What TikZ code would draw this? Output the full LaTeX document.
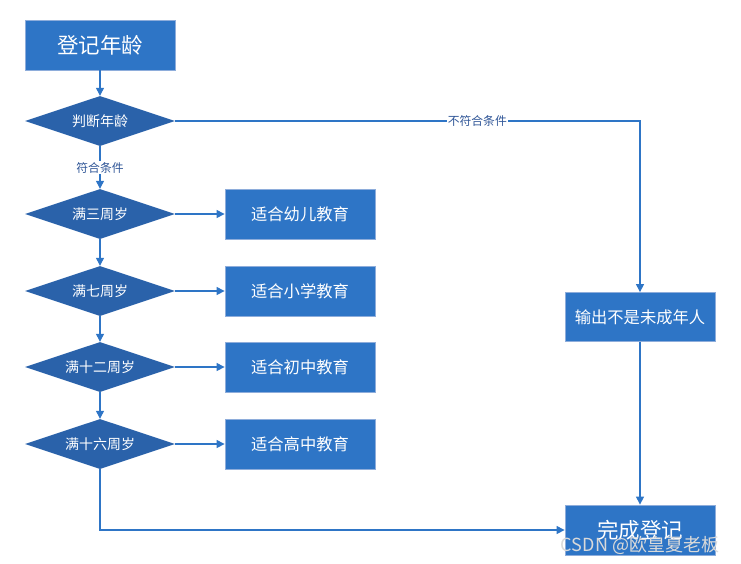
\documentclass[tikz,border=0pt]{standalone}
\usepackage{fontspec}
\setmainfont{Noto Sans CJK SC}
\usetikzlibrary{positioning,arrows.meta,shapes.geometric}
\definecolor{boxblue}{HTML}{2E75C6}
\definecolor{boxedge}{HTML}{8EADDB}
\definecolor{diablue}{HTML}{2A62AA}
\definecolor{labblue}{HTML}{2F5597}
\tikzstyle{block} = [rectangle, fill=boxblue, draw=boxedge, line width=0.8pt, text=white, minimum width=150pt, minimum height=50pt, inner sep=0pt, font=\fontsize{16.3}{18}\selectfont]
\tikzstyle{decide} = [diamond, fill=diablue, text=white, aspect=3, inner sep=0pt, minimum width=150pt, minimum height=50pt, font=\fontsize{14}{16}\selectfont]
\tikzstyle{arrow} = [line width=1.2pt, draw=boxblue, -{Triangle[length=8pt,width=8pt]}]
\tikzstyle{cond} = [fill=white, text=labblue, inner sep=1pt, font=\fontsize{11.8}{13}\selectfont]

\begin{document}
\begin{tikzpicture}[x=1pt,y=-1pt]
\useasboundingbox (0,0) rectangle (741,563);

\node[block, font=\fontsize{21.5}{24}\selectfont] (reg) at (100,45) {登记年龄};
\node[decide] (judge) at (100,121) {判断年龄};

\node[decide] (d1) at (100,214) {满三周岁};
\node[decide] (d2) at (100,291) {满七周岁};
\node[decide] (d3) at (100,367) {满十二周岁};
\node[decide] (d4) at (100,444) {满十六周岁};

\node[block] (b1) at (300,214) {适合幼儿教育};
\node[block] (b2) at (300,291) {适合小学教育};
\node[block] (b3) at (300,367) {适合初中教育};
\node[block] (b4) at (300,444) {适合高中教育};

\node[block, minimum height=49pt] (out) at (640,317) {输出不是未成年人};
\node[block, font=\fontsize{21.5}{24}\selectfont] (done) at (640,530) {完成登记};

\draw [arrow] (reg) -- (judge);
\draw [arrow] (judge) -- node[cond] {符合条件} (d1);
\draw [arrow] (judge.east) -| node[cond, pos=0.325] {不符合条件} (out.north);

\draw [arrow] (d1) -- (d2);
\draw [arrow] (d2) -- (d3);
\draw [arrow] (d3) -- (d4);

\draw [arrow] (d1) -- (b1);
\draw [arrow] (d2) -- (b2);
\draw [arrow] (d3) -- (b3);
\draw [arrow] (d4) -- (b4);

\draw [arrow] (out) -- (done);
\draw [arrow] (d4.south) |- (done.west);

\node[text=white!70!gray, font=\fontsize{18}{20}\selectfont, inner sep=0pt] (mark) at (640,545) {CSDN @欧皇夏老板};
\end{tikzpicture}
\end{document}
